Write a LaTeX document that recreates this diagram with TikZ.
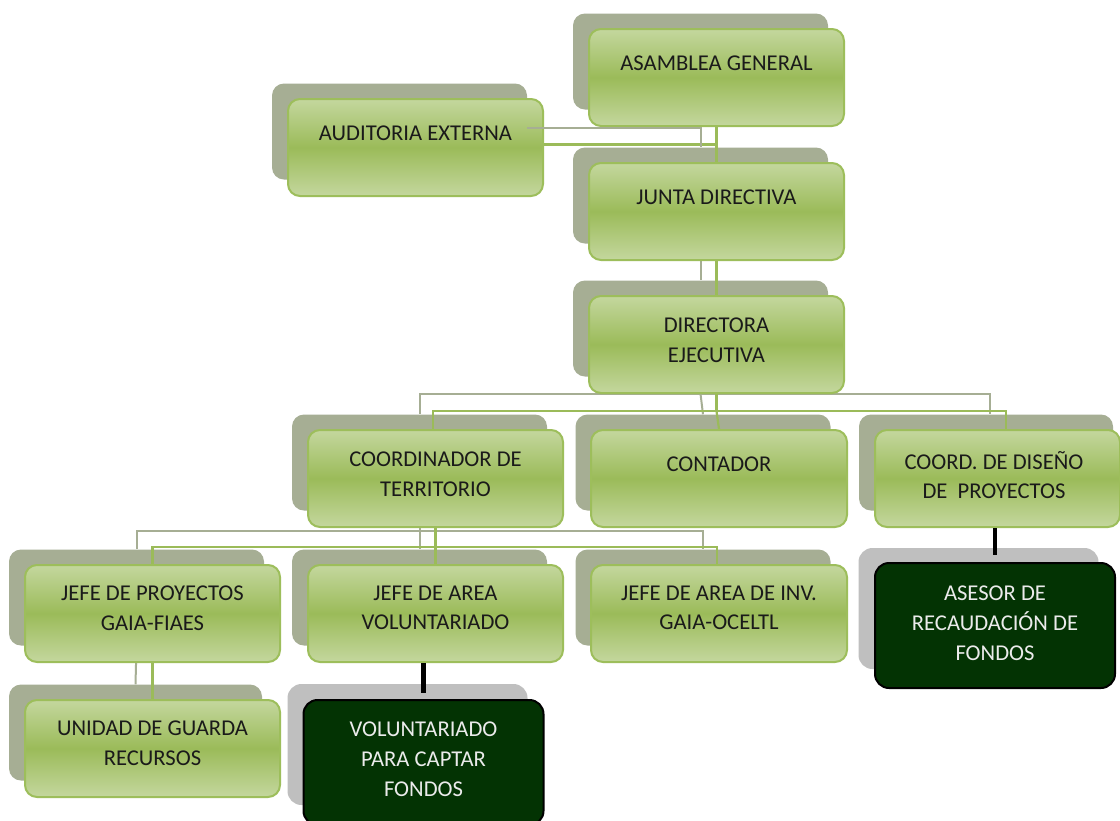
\documentclass[tikz,border=0pt]{standalone}
\usepackage{fontspec}
\setmainfont{Carlito}
\definecolor{shad}{HTML}{A6AE94}
\definecolor{lgreen}{HTML}{C4D79E}
\definecolor{mgreen}{HTML}{9BBB59}
\definecolor{bgreen}{HTML}{9DBE5B}
\definecolor{dgreen}{HTML}{033303}
\definecolor{gshad}{HTML}{BFBFBF}
\definecolor{gline}{HTML}{A6AE94}
\definecolor{txt}{HTML}{1A1A1A}
\pgfdeclarelayer{lbg}
\pgfdeclarelayer{lzero}
\pgfdeclarelayer{lone}
\pgfdeclarelayer{ltwo}
\pgfsetlayers{lbg,lzero,lone,ltwo,main}
\begin{document}
\begin{tikzpicture}[x=1pt,y=-1pt,
  shadowbox/.style={fill=shad, rounded corners=12pt, minimum width=255pt, minimum height=96pt, inner sep=0pt},
  greyshadow/.style={fill=gshad, rounded corners=14pt, minimum width=240pt, minimum height=121pt, inner sep=0pt},
  frontbox/.style={draw=bgreen, line width=2pt, rounded corners=12pt, top color=lgreen, bottom color=lgreen, middle color=mgreen, minimum width=255pt, minimum height=97pt, inner sep=0pt},
  darkbox/.style={draw=black, line width=2pt, fill=dgreen, rounded corners=14pt, minimum width=240pt, minimum height=125pt, inner sep=0pt},
  label/.style={align=center, text=txt, font=\fontsize{22.6}{29.5}\selectfont, inner sep=0pt},
  dlabel/.style={align=center, text=white!92!black, font=\fontsize{22.6}{30}\selectfont, inner sep=0pt},
  gconn/.style={draw=mgreen, line width=2.2pt},
  sconn/.style={draw=gline, line width=2pt},
  bconn/.style={draw=black, line width=4.5pt}
]
\useasboundingbox (0,0) rectangle (1120,820);
\begin{pgfonlayer}{lbg}
\fill[white] (0,0) rectangle (1120,820);
\end{pgfonlayer}

% shadows
\begin{pgfonlayer}{lone}
\node[shadowbox] (asam-s) at (700.5,61.5) {};
\node[shadowbox] (aud-s) at (399.5,131.5) {};
\node[shadowbox] (junta-s) at (700.5,195.5) {};
\node[shadowbox] (dir-s) at (700.5,328.5) {};
\node[shadowbox] (cterr-s) at (419.5,462.5) {};
\node[shadowbox] (cont-s) at (703,462.5) {};
\node[shadowbox, minimum width=254pt] (cdis-s) at (986,462.5) {};
\node[shadowbox] (jp-s) at (136.5,597.5) {};
\node[shadowbox] (jv-s) at (419.5,597.5) {};
\node[shadowbox] (ji-s) at (703,597.5) {};
\node[shadowbox, minimum width=253pt] (un-s) at (135.5,732.5) {};
\node[greyshadow] (ase-s) at (978.5,608.5) {};
\node[greyshadow] (vol-s) at (407.5,744.5) {};
\end{pgfonlayer}

% front boxes
\node[frontbox] (asam) at (716.5,77.5) {};
\node[frontbox] (aud) at (415.5,147.5) {};
\node[frontbox] (junta) at (716.5,211.5) {};
\node[frontbox] (dir) at (716.5,344.5) {};
\node[frontbox] (cterr) at (435.5,478.5) {};
\node[frontbox, minimum width=256pt] (cont) at (719,478.5) {};
\node[frontbox, minimum width=245pt] (cdis) at (997.5,478.5) {};
\node[frontbox] (jp) at (152.5,613.5) {};
\node[frontbox] (jv) at (435.5,613.5) {};
\node[frontbox, minimum width=256pt] (ji) at (719,613.5) {};
\node[frontbox] (un) at (152.5,748.5) {};
\node[darkbox] (ase) at (995,625.5) {};
\node[darkbox] (vol) at (423.5,762.5) {};

% texts
\node[label] (t-asam) at (716.5,63) {ASAMBLEA GENERAL};
\node[label] (t-aud) at (415.5,133) {AUDITORIA EXTERNA};
\node[label] (t-junta) at (716.5,197) {JUNTA DIRECTIVA};
\node[label] (t-dir) at (716.5,340) {DIRECTORA\\EJECUTIVA};
\node[label] (t-cterr) at (435.5,474) {COORDINADOR DE\\TERRITORIO};
\node[label] (t-cont) at (719,464) {CONTADOR};
\node[label] (t-cdis) at (994,475) {COORD. DE DISEÑO\\DE\ \ PROYECTOS};
\node[label] (t-jp) at (152.5,608) {JEFE DE PROYECTOS\\GAIA-FIAES};
\node[label] (t-jv) at (435.5,608) {JEFE DE AREA\\VOLUNTARIADO};
\node[label] (t-ji) at (719,608) {JEFE DE AREA DE INV.\\GAIA-OCELTL};
\node[label] (t-un) at (152.5,743) {UNIDAD DE GUARDA\\RECURSOS};
\node[dlabel] (t-ase) at (995,623) {ASESOR DE\\RECAUDACIÓN DE\\FONDOS};
\node[dlabel] (t-vol) at (423.5,759) {VOLUNTARIADO\\PARA CAPTAR\\FONDOS};

% shadow connectors (grey)
\begin{pgfonlayer}{lzero}
\draw[sconn] (asam-s.south) -- (junta-s.north);
\draw[sconn] (junta-s.south) -- (dir-s.north);
\draw[sconn] (dir-s.south) -- ++(0,17) coordinate (g3) -| (cterr-s.north);
\draw[sconn] (g3) -| ([xshift=4pt]cdis-s.north);
\draw[sconn] (g3) -- (cont-s.north);
\draw[sconn] (cterr-s.south) -- ++(0,20) coordinate (g4) -| (jp-s.north);
\draw[sconn] (g4) -| (ji-s.north);
\draw[sconn] (g4) -- (jv-s.north);
\draw[sconn] (jp-s.south) -- (un-s.north);
\end{pgfonlayer}

% green connectors
\begin{pgfonlayer}{ltwo}
\draw[gconn] (asam.south) -- (junta.north);
\draw[gconn] (aud.east) ++(0,-3) coordinate (ae) -- (ae -| junta.north);
\draw[gconn] (junta.south) -- (dir.north);
\draw[gconn] (dir.south) -- ++(0,17) coordinate (h3) -| ([xshift=-2.5pt]cterr.north);
\draw[gconn] (h3) -| ([xshift=8.5pt]cdis.north);
\draw[gconn] (h3) -- (cont.north);
\draw[gconn] (cterr.south) -- ++(0,19) coordinate (h4) -| (jp.north);
\draw[gconn] (h4) -| ([xshift=-2pt]ji.north);
\draw[gconn] (h4) -- (jv.north);
\draw[gconn] (jp.south) -- (un.north);
\end{pgfonlayer}

% auditoria grey link drawn on top
\draw[sconn] ([yshift=3.5pt]aud-s.east) coordinate (as) -- (as -| junta-s.north) -- (junta-s.north);

% black connectors
\draw[bconn] (cdis.south -| ase.north) -- ([yshift=7pt]ase.north);
\draw[bconn] (jv.south -| vol.north) -- ([yshift=6pt]vol.north);
\end{tikzpicture}
\end{document}
